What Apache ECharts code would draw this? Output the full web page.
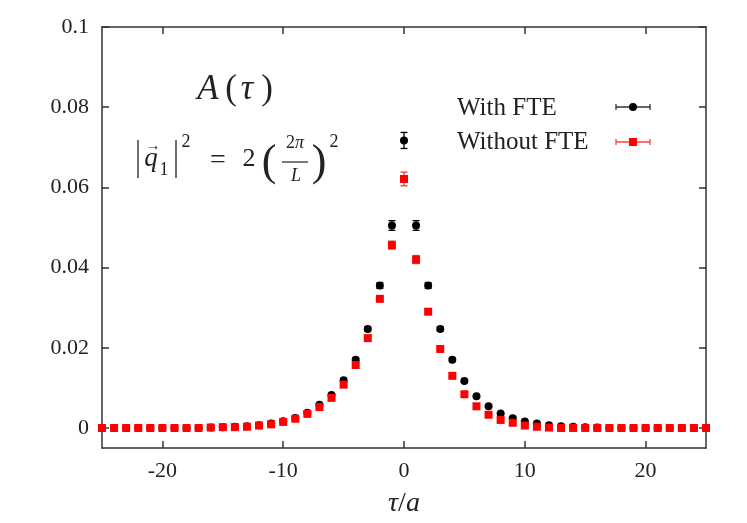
<!DOCTYPE html>
<html>
<head>
<meta charset="utf-8">
<script src="https://cdn.jsdelivr.net/npm/echarts@6/dist/echarts.min.js"></script>
<style>
html,body{margin:0;padding:0;background:#fff;}
#chart{width:747px;height:523px;}
</style>
</head>
<body>
<div id="chart"></div>
<script>
// ---- data ----
var tau = [-25,-24,-23,-22,-21,-20,-19,-18,-17,-16,-15,-14,-13,-12,-11,-10,-9,-8,-7,-6,-5,-4,-3,-2,-1,
           0,1,2,3,4,5,6,7,8,9,10,11,12,13,14,15,16,17,18,19,20,21,22,23,24,25];
var withFTE = [0,0,0,0,0,0,0,0,0,
  0.0001,0.0002,0.0003,0.0004,0.0007,0.0011,0.0017,0.0025,0.0038,0.0058,0.0082,0.0119,0.0170,0.0247,0.0355,0.0505,
  0.0717,
  0.0505,0.0355,0.0247,0.0170,0.0117,0.0079,0.0054,0.0036,0.0024,0.0016,0.0011,0.0007,0.0004,0.0003,0.0002,0.0001,
  0,0,0,0,0,0,0,0,0];
var withFTEErr = [0.0001,0.0001,0.0001,0.0001,0.0001,0.0001,0.0001,0.0001,0.0001,
  0.0001,0.0001,0.0001,0.0001,0.0001,0.0001,0.0002,0.0002,0.0002,0.0002,0.0003,0.0003,0.0004,0.0005,0.0007,0.0012,
  0.0020,
  0.0012,0.0007,0.0005,0.0004,0.0003,0.0003,0.0002,0.0002,0.0002,0.0002,0.0001,0.0001,0.0001,0.0001,0.0001,0.0001,
  0.0001,0.0001,0.0001,0.0001,0.0001,0.0001,0.0001,0.0001,0.0001];
var withoutFTE = [0,0,0,0,0,0,0,0,0,
  0.0001,0.0002,0.0002,0.0003,0.0006,0.0009,0.0015,0.0023,0.0035,0.0052,0.0075,0.0108,0.0157,0.0224,0.0322,0.0456,
  0.0621,
  0.0420,0.0290,0.0197,0.0130,0.0084,0.0054,0.0033,0.0020,0.0013,0.0006,0.0003,0.0001,
  0,0,0,0,0,0,0,0,0,0,0,0,0];
var withoutFTEErr = [0.0001,0.0001,0.0001,0.0001,0.0001,0.0001,0.0001,0.0001,0.0001,
  0.0001,0.0001,0.0001,0.0001,0.0001,0.0001,0.0002,0.0002,0.0002,0.0002,0.0003,0.0003,0.0003,0.0004,0.0006,0.0010,
  0.0017,
  0.0010,0.0006,0.0004,0.0003,0.0003,0.0003,0.0002,0.0002,0.0002,0.0002,0.0001,0.0001,0.0001,0.0001,0.0001,0.0001,
  0.0001,0.0001,0.0001,0.0001,0.0001,0.0001,0.0001,0.0001,0.0001];
var xTicks = [-20,-10,0,10,20];
var yTicks = [0,0.02,0.04,0.06,0.08,0.1];
var seriesNames = ['With FTE','Without FTE'];

// ---- build ----
var FONT = '"Liberation Serif","DejaVu Serif",serif';
var INK = '#222';
function pts(ys){ return tau.map(function(t,i){return [t, ys[i]];}); }
function errPts(ys, es){ return tau.map(function(t,i){return [t, ys[i], es[i]];}); }

function errRender(color){
  return function(params, api){
    var x = api.value(0), y = api.value(1), e = api.value(2);
    var lo = api.coord([x, y - e]), hi = api.coord([x, y + e]);
    var hw = 3.5;
    var st = {stroke: color, lineWidth: 1.3};
    return {type:'group', children:[
      {type:'line', shape:{x1:lo[0],y1:lo[1],x2:hi[0],y2:hi[1]}, style:st},
      {type:'line', shape:{x1:lo[0]-hw,y1:lo[1],x2:lo[0]+hw,y2:lo[1]}, style:st},
      {type:'line', shape:{x1:hi[0]-hw,y1:hi[1],x2:hi[0]+hw,y2:hi[1]}, style:st}
    ]};
  };
}
function txt(s, x, y, font, extra){
  var st = {text:s, font:font, fill:INK, align:'center', verticalAlign:'middle'};
  if (extra) for (var k in extra) st[k] = extra[k];
  return {type:'text', x:x, y:y, style:st};
}

var axisLineStyle = {color:'#333', width:1.5};
var labelStyle = {fontFamily: FONT, fontSize: 22, color:INK};

var option = {
  animation:false,
  backgroundColor:'#fff',
  grid:{left:102, right:41, top:27, bottom:73},
  xAxis:[{
    type:'value', min:-25, max:25, position:'bottom',
    axisLine:{show:true, onZero:false, lineStyle:axisLineStyle},
    axisTick:{show:true, inside:true, length:7, customValues:xTicks, lineStyle:axisLineStyle},
    axisLabel:Object.assign({customValues:xTicks, margin:12}, labelStyle),
    splitLine:{show:false},
    name:'{i|τ}/{i|a}', nameLocation:'middle', nameGap:42,
    nameTextStyle:{fontFamily:FONT, fontSize:28, color:INK, rich:{i:{fontFamily:FONT, fontStyle:'italic', fontSize:28, color:INK}}}
  },{
    type:'value', min:-25, max:25, position:'top',
    axisLine:{show:true, onZero:false, lineStyle:axisLineStyle},
    axisTick:{show:true, inside:true, length:7, customValues:xTicks, lineStyle:axisLineStyle},
    axisLabel:{show:false}, splitLine:{show:false}
  }],
  yAxis:[{
    type:'value', min:-0.005, max:0.1, position:'left',
    axisLine:{show:true, onZero:false, lineStyle:axisLineStyle},
    axisTick:{show:true, inside:true, length:7, customValues:yTicks, lineStyle:axisLineStyle},
    axisLabel:Object.assign({customValues:yTicks, margin:13, formatter:function(v){return v===0?'0':String(+v.toFixed(3));}}, labelStyle),
    splitLine:{show:false}
  },{
    type:'value', min:-0.005, max:0.1, position:'right',
    axisLine:{show:true, onZero:false, lineStyle:axisLineStyle},
    axisTick:{show:true, inside:true, length:7, customValues:yTicks, lineStyle:axisLineStyle},
    axisLabel:{show:false}, splitLine:{show:false}
  }],
  series:[
    {type:'custom', name:seriesNames[0]+' err', renderItem:errRender('#000'), data:errPts(withFTE, withFTEErr), z:2, silent:true},
    {type:'scatter', name:seriesNames[0], data:pts(withFTE), symbol:'circle', symbolSize:8, itemStyle:{color:'#000', opacity:1}, z:3},
    {type:'custom', name:seriesNames[1]+' err', renderItem:errRender('#ff3030'), data:errPts(withoutFTE, withoutFTEErr), z:4, silent:true},
    {type:'scatter', name:seriesNames[1], data:pts(withoutFTE), symbol:'rect', symbolSize:8, itemStyle:{color:'#ff0000', opacity:1}, z:5}
  ],
  graphic:[
    // A(tau)
    txt('A', 208, 90, 'italic 35px '+FONT),
    txt('(', 231, 90, '35px '+FONT),
    txt('τ', 247, 90, 'italic 35px '+FONT),
    txt(')', 267, 90, '35px '+FONT),
    // |q1|^2 = 2 (2pi/L)^2
    {type:'line', shape:{x1:138,y1:140,x2:138,y2:178}, style:{stroke:INK, lineWidth:1.3}},
    txt('q', 151, 159, 'italic 27px '+FONT),
    txt('→', 153, 146, '15px '+FONT),
    txt('1', 164, 170, '18px '+FONT),
    {type:'line', shape:{x1:176,y1:140,x2:176,y2:178}, style:{stroke:INK, lineWidth:1.3}},
    txt('2', 186, 142, '18px '+FONT),
    txt('=', 218, 161, '28px '+FONT),
    txt('2', 249, 159, '26px '+FONT),
    txt('(', 269, 163, '44px '+FONT),
    txt('2{i|π}', 295, 143, '18px '+FONT, {rich:{i:{fontFamily:FONT, fontStyle:'italic', fontSize:18, fill:INK}}}),
    {type:'line', shape:{x1:282,y1:162,x2:308,y2:162}, style:{stroke:INK, lineWidth:1.2}},
    txt('L', 296, 176, 'italic 18px '+FONT),
    txt(')', 319, 163, '44px '+FONT),
    txt('2', 334, 142, '18px '+FONT),
    // legend
    {type:'text', x:457, y:108, style:{text:seriesNames[0], font:'25px '+FONT, fill:INK, align:'left', verticalAlign:'middle'}},
    {type:'text', x:457, y:142, style:{text:seriesNames[1], font:'25px '+FONT, fill:INK, align:'left', verticalAlign:'middle'}},
    {type:'line', shape:{x1:616,y1:107,x2:650,y2:107}, style:{stroke:'#333', lineWidth:1.3}},
    {type:'line', shape:{x1:616,y1:104,x2:616,y2:110}, style:{stroke:'#333', lineWidth:1.3}},
    {type:'line', shape:{x1:650,y1:104,x2:650,y2:110}, style:{stroke:'#333', lineWidth:1.3}},
    {type:'circle', shape:{cx:633, cy:107, r:4}, style:{fill:'#000'}},
    {type:'line', shape:{x1:616,y1:142,x2:650,y2:142}, style:{stroke:'#ff4040', lineWidth:1.3}},
    {type:'line', shape:{x1:616,y1:139,x2:616,y2:145}, style:{stroke:'#ff4040', lineWidth:1.3}},
    {type:'line', shape:{x1:650,y1:139,x2:650,y2:145}, style:{stroke:'#ff4040', lineWidth:1.3}},
    {type:'rect', shape:{x:629, y:138, width:8, height:8}, style:{fill:'#ff0000'}}
  ]
};
var chart = echarts.init(document.getElementById('chart'), null, {renderer:'canvas'});
chart.setOption(option);
</script>
</body>
</html>
